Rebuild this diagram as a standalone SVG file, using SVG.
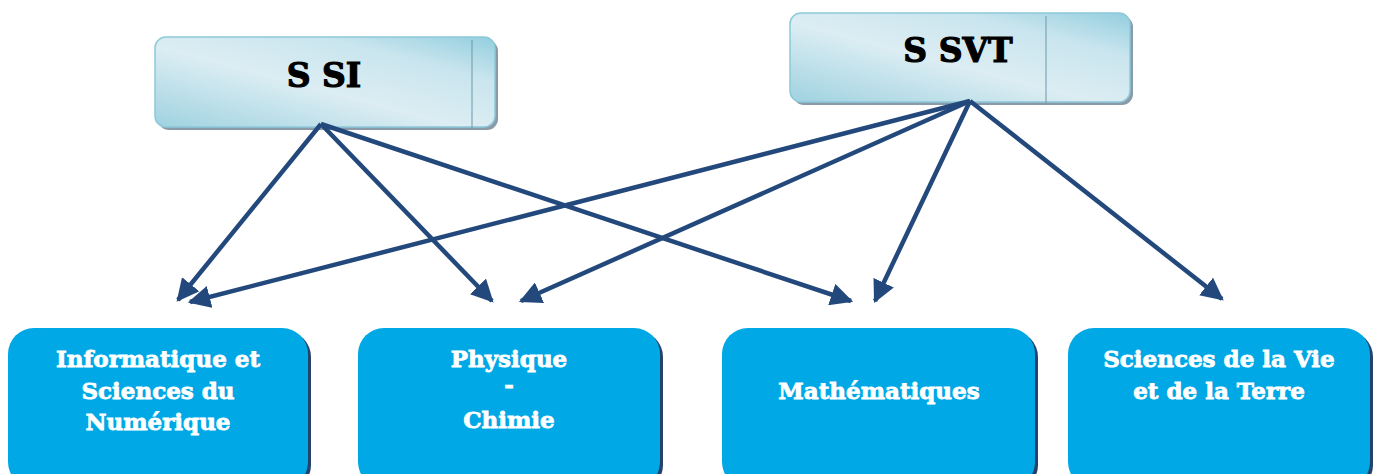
<svg xmlns="http://www.w3.org/2000/svg" width="1375" height="474" viewBox="0 0 1375 474">
<defs>
<linearGradient id="hg" x1="0" y1="1" x2="1" y2="0">
<stop offset="0" stop-color="#9fd2e0"/>
<stop offset="0.45" stop-color="#dcedf3"/>
<stop offset="0.75" stop-color="#c9e5ee"/>
<stop offset="1" stop-color="#93cedf"/>
</linearGradient>
<marker id="ah" viewBox="0 0 10 10" refX="9" refY="5" markerWidth="5" markerHeight="5" orient="auto" markerUnits="strokeWidth">
<path d="M0,0 L10,5 L0,10 z" fill="#23497c"/>
</marker>
</defs>
<style>
.hbox{fill:url(#hg);stroke:#8cc9da;stroke-width:1.5}
.hsh{fill:#8a9aa8}
.sep{stroke:#6f97a8;stroke-width:1}
.ht{font-family:"DejaVu Serif",serif;font-weight:bold;font-size:33px;fill:#000;stroke:#000;stroke-width:1.2;text-anchor:middle}
.bbox{fill:#00a9e5}
.bsh{fill:#26426a}
.bt{font-family:"DejaVu Serif",serif;font-weight:bold;font-size:23px;fill:#fff;stroke:#fff;stroke-width:0.8;text-anchor:middle}
.c{stroke:#23497c;stroke-width:4.5;fill:none;marker-end:url(#ah)}
</style>
<g id="node-ssi">
<rect class="hsh" x="158" y="40" width="340" height="90" rx="11"/>
<rect class="hbox" x="155" y="37" width="340" height="90" rx="11"/>
<line class="sep" x1="472" y1="40" x2="472" y2="130"/>
<text class="ht" x="324" y="87">S SI</text>
</g>
<g id="node-ssvt">
<rect class="hsh" x="793" y="16" width="340" height="89" rx="11"/>
<rect class="hbox" x="790" y="13" width="340" height="89" rx="11"/>
<line class="sep" x1="1046" y1="16" x2="1046" y2="105"/>
<text class="ht" x="958" y="62">S SVT</text>
</g>
<g id="node-isn">
<rect class="bsh" x="11" y="331" width="300" height="160" rx="26"/>
<rect class="bbox" x="8" y="328" width="300" height="160" rx="26"/>
<text class="bt" x="158" y="367">Informatique et</text>
<text class="bt" x="158" y="399">Sciences du</text>
<text class="bt" x="158" y="430">Numérique</text>
</g>
<g id="node-pc">
<rect class="bsh" x="361" y="331" width="302" height="160" rx="26"/>
<rect class="bbox" x="358" y="328" width="302" height="160" rx="26"/>
<text class="bt" x="509" y="367">Physique</text>
<text class="bt" x="509" y="393">-</text>
<text class="bt" x="509" y="428">Chimie</text>
</g>
<g id="node-math">
<rect class="bsh" x="725" y="331" width="313" height="160" rx="26"/>
<rect class="bbox" x="722" y="328" width="313" height="160" rx="26"/>
<text class="bt" x="879" y="399">Mathématiques</text>
</g>
<g id="node-svt">
<rect class="bsh" x="1071" y="331" width="302" height="160" rx="26"/>
<rect class="bbox" x="1068" y="328" width="302" height="160" rx="26"/>
<text class="bt" x="1219" y="367">Sciences de la Vie</text>
<text class="bt" x="1219" y="399">et de la Terre</text>
</g>
<g id="connectors">
<line class="c" x1="321" y1="124" x2="178" y2="300"/>
<line class="c" x1="321" y1="124" x2="492" y2="301"/>
<line class="c" x1="321" y1="124" x2="851" y2="301"/>
<line class="c" x1="970" y1="101" x2="190" y2="302"/>
<line class="c" x1="970" y1="101" x2="521" y2="301"/>
<line class="c" x1="970" y1="101" x2="875" y2="301"/>
<line class="c" x1="970" y1="101" x2="1222" y2="299"/>
</g>
</svg>
